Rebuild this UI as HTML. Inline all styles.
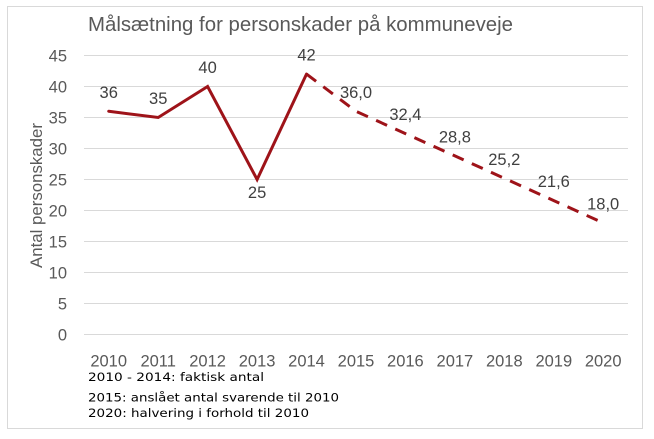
<!DOCTYPE html>
<html>
<head>
<meta charset="utf-8">
<style>
html,body{margin:0;padding:0;background:#fff;}
svg{display:block;}
</style>
</head>
<body>
<svg width="654" height="439" viewBox="0 0 654 439" xmlns="http://www.w3.org/2000/svg">
<rect x="0" y="0" width="654" height="439" fill="#fff"/>
<rect x="7.5" y="6.5" width="635" height="422" fill="#fff" stroke="#d9d9d9" stroke-width="1"/>

<text x="88" y="31" font-family="Liberation Sans, sans-serif" font-size="20" fill="#595959" textLength="425" lengthAdjust="spacingAndGlyphs">Målsætning for personskader på kommuneveje</text>

<g stroke="#d9d9d9" stroke-width="1">
<line x1="84" x2="628" y1="55.5" y2="55.5"/>
<line x1="84" x2="628" y1="86.5" y2="86.5"/>
<line x1="84" x2="628" y1="117.5" y2="117.5"/>
<line x1="84" x2="628" y1="148.5" y2="148.5"/>
<line x1="84" x2="628" y1="179.5" y2="179.5"/>
<line x1="84" x2="628" y1="210.5" y2="210.5"/>
<line x1="84" x2="628" y1="241.5" y2="241.5"/>
<line x1="84" x2="628" y1="272.5" y2="272.5"/>
<line x1="84" x2="628" y1="303.5" y2="303.5"/>
<line x1="84" x2="628" y1="334.5" y2="334.5"/>
</g>

<g font-family="Liberation Sans, sans-serif" font-size="16.5" fill="#595959" text-anchor="end">
<text x="67" y="61.5">45</text>
<text x="67" y="92.5">40</text>
<text x="67" y="123.5">35</text>
<text x="67" y="154.5">30</text>
<text x="67" y="185.5">25</text>
<text x="67" y="216.5">20</text>
<text x="67" y="247.5">15</text>
<text x="67" y="278.5">10</text>
<text x="67" y="309.5">5</text>
<text x="67" y="340.5">0</text>
</g>

<text transform="translate(42,195.5) rotate(-90)" font-family="Liberation Sans, sans-serif" font-size="17" fill="#595959" text-anchor="middle" textLength="145" lengthAdjust="spacingAndGlyphs">Antal personskader</text>

<g font-family="Liberation Sans, sans-serif" font-size="16.5" fill="#595959" text-anchor="middle">
<text x="108.7" y="366.5">2010</text>
<text x="158.2" y="366.5">2011</text>
<text x="207.6" y="366.5">2012</text>
<text x="257.1" y="366.5">2013</text>
<text x="306.5" y="366.5">2014</text>
<text x="356" y="366.5">2015</text>
<text x="405.4" y="366.5">2016</text>
<text x="454.9" y="366.5">2017</text>
<text x="504.3" y="366.5">2018</text>
<text x="553.8" y="366.5">2019</text>
<text x="603.2" y="366.5">2020</text>
</g>

<polyline points="108.7,111.3 158.2,117.5 207.6,86.5 257.1,179.5 306.5,74.1" fill="none" stroke="#9e1319" stroke-width="3" stroke-linejoin="miter" stroke-linecap="round"/>
<polyline points="306.5,74.1 356,111.3 405.4,133.6 454.9,155.9 504.3,178.3 553.8,200.6 603.2,222.9" fill="none" stroke="#9e1319" stroke-width="3" stroke-dasharray="12 9" stroke-linecap="butt"/>

<g font-family="Liberation Sans, sans-serif" font-size="16.5" fill="#404040" text-anchor="middle">
<text x="108.7" y="98">36</text>
<text x="158.2" y="104">35</text>
<text x="207.6" y="73">40</text>
<text x="257.1" y="198">25</text>
<text x="306.5" y="60.5">42</text>
<text x="356" y="98">36,0</text>
<text x="405.4" y="120">32,4</text>
<text x="454.9" y="142.5">28,8</text>
<text x="504.3" y="165">25,2</text>
<text x="553.8" y="187">21,6</text>
<text x="603.2" y="209.5">18,0</text>
</g>

<g font-family="DejaVu Sans, Verdana, sans-serif" font-size="11.5" fill="#000">
<text x="88" y="381" textLength="176" lengthAdjust="spacingAndGlyphs">2010 - 2014: faktisk antal</text>
<text x="88" y="401.5" textLength="251" lengthAdjust="spacingAndGlyphs">2015: anslået antal svarende til 2010</text>
<text x="88" y="417" textLength="221" lengthAdjust="spacingAndGlyphs">2020: halvering i forhold til 2010</text>
</g>
</svg>
</body>
</html>
